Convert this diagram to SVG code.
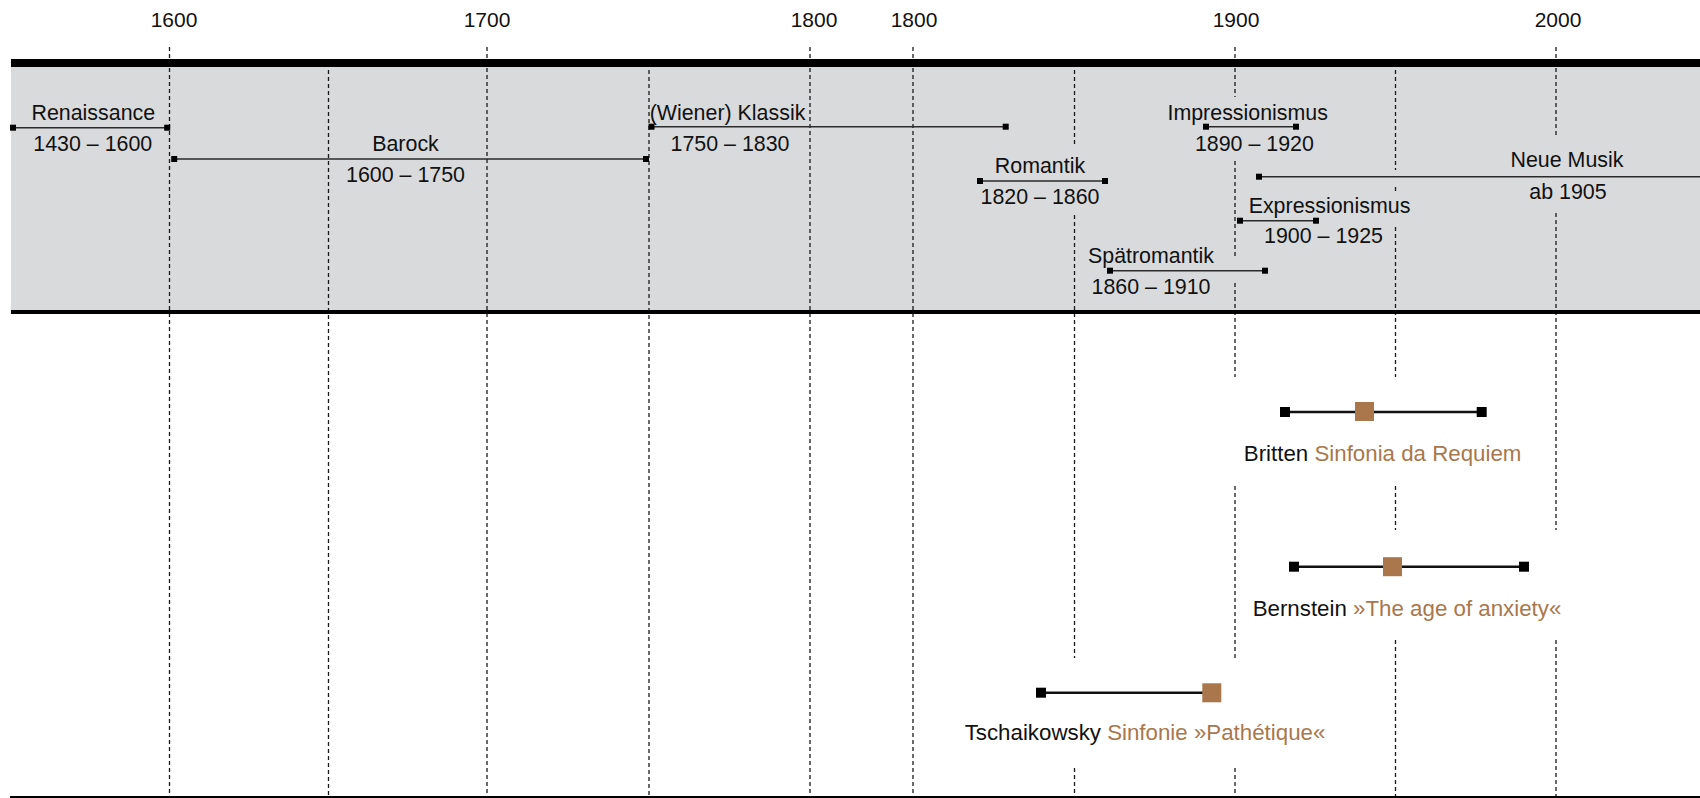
<svg xmlns="http://www.w3.org/2000/svg" width="1700" height="798" viewBox="0 0 1700 798">
<style>
  .bg { fill: #ffffff; }
  .band { fill: #d9dadc; }
  .bar { fill: #000000; }
  .grid { stroke: #1a1a1a; stroke-width: 1.3; stroke-dasharray: 4 3; fill: none; }
  .yr { font-family: "Liberation Sans", Arial, sans-serif; font-size: 21px; fill: #111; text-anchor: middle; }
  .lbl { font-family: "Liberation Sans", Arial, sans-serif; font-size: 21.4px; fill: #111; text-anchor: middle; }
  .work { font-family: "Liberation Sans", Arial, sans-serif; font-size: 22.3px; fill: #111; text-anchor: middle; }
  .brown { fill: #a9774b; }
  .span { stroke: #2a2a2a; stroke-width: 1.5; }
  .wspan { stroke: #111; stroke-width: 2.6; }
  .mk { fill: #000; }
</style>
<rect class="bg" x="0" y="0" width="1700" height="798"/>
<rect class="band" x="11" y="63" width="1689" height="249"/>

<g id="connectors">
  <path class="grid" d="M169.5 47V797 M328.5 63V797 M487 47V797 M649 63V797 M810 47V797 M913 47V797
    M1074.5 63V146.7 M1074.5 215V658 M1074.5 768V797
    M1235 47V97 M1235 161V258 M1235 283V377 M1235 486V660 M1235 768V797
    M1395.5 63V170 M1395.5 187V192 M1395.5 227V377 M1395.5 486V530 M1395.5 640V797
    M1556 47V137 M1556 213V530 M1556 640V797"/>
</g>

<rect class="bar" x="11" y="59" width="1689" height="8"/>
<rect class="bar" x="11" y="310" width="1689" height="4"/>
<rect class="bar" x="10" y="796" width="1690" height="2"/>

<g id="axis">
  <text class="yr" x="174" y="27">1600</text>
  <text class="yr" x="487" y="27">1700</text>
  <text class="yr" x="814" y="27">1800</text>
  <text class="yr" x="914" y="27">1800</text>
  <text class="yr" x="1236" y="27">1900</text>
  <text class="yr" x="1558" y="27">2000</text>
</g>

<g id="renaissance">
  <line class="span" x1="13" y1="127.7" x2="167.2" y2="127.7"/>
  <rect class="mk" x="10" y="124.7" width="6" height="6"/>
  <rect class="mk" x="164.2" y="124.7" width="6" height="6"/>
  <text class="lbl" x="93.3" y="120">Renaissance</text>
  <text class="lbl" x="92.8" y="151">1430 – 1600</text>
</g>

<g id="barock">
  <line class="span" x1="174.2" y1="159" x2="646" y2="159"/>
  <rect class="mk" x="171.2" y="156" width="6" height="6"/>
  <rect class="mk" x="643" y="156" width="6" height="6"/>
  <text class="lbl" x="405.5" y="151">Barock</text>
  <text class="lbl" x="405.5" y="181.7">1600 – 1750</text>
</g>

<g id="klassik">
  <line class="span" x1="651.5" y1="126.7" x2="1005.7" y2="126.7"/>
  <rect class="mk" x="648.5" y="123.7" width="6" height="6"/>
  <rect class="mk" x="1002.7" y="123.7" width="6" height="6"/>
  <text class="lbl" x="727.5" y="120">(Wiener) Klassik</text>
  <text class="lbl" x="730" y="150.7">1750 – 1830</text>
</g>

<g id="romantik">
  <line class="span" x1="980" y1="181" x2="1105" y2="181"/>
  <rect class="mk" x="977" y="178" width="6" height="6"/>
  <rect class="mk" x="1102" y="178" width="6" height="6"/>
  <text class="lbl" x="1040" y="173.3">Romantik</text>
  <text class="lbl" x="1040" y="204">1820 – 1860</text>
</g>

<g id="spaetromantik">
  <line class="span" x1="1110" y1="270.7" x2="1265" y2="270.7"/>
  <rect class="mk" x="1107" y="267.7" width="6" height="6"/>
  <rect class="mk" x="1262" y="267.7" width="6" height="6"/>
  <text class="lbl" x="1151" y="263">Spätromantik</text>
  <text class="lbl" x="1151" y="293.5">1860 – 1910</text>
</g>

<g id="impressionismus">
  <line class="span" x1="1206" y1="126.7" x2="1296" y2="126.7"/>
  <rect class="mk" x="1203" y="123.7" width="6" height="6"/>
  <rect class="mk" x="1293" y="123.7" width="6" height="6"/>
  <text class="lbl" x="1247.7" y="120">Impressionismus</text>
  <text class="lbl" x="1254.4" y="150.7">1890 – 1920</text>
</g>

<g id="expressionismus">
  <line class="span" x1="1240" y1="220.7" x2="1316" y2="220.7"/>
  <rect class="mk" x="1237" y="217.7" width="6" height="6"/>
  <rect class="mk" x="1313" y="217.7" width="6" height="6"/>
  <text class="lbl" x="1329.5" y="212.5">Expressionismus</text>
  <text class="lbl" x="1323.5" y="242.7">1900 – 1925</text>
</g>

<g id="neue-musik">
  <line class="span" x1="1259" y1="176.7" x2="1700" y2="176.7"/>
  <rect class="mk" x="1256" y="173.7" width="6" height="6"/>
  <text class="lbl" x="1567" y="167">Neue Musik</text>
  <text class="lbl" x="1568" y="199">ab 1905</text>
</g>

<g id="britten">
  <line class="wspan" x1="1285" y1="412" x2="1481.7" y2="412"/>
  <rect class="mk" x="1280" y="407" width="10" height="10"/>
  <rect class="mk" x="1476.7" y="407" width="10" height="10"/>
  <rect class="brown" x="1355" y="402" width="19" height="19"/>
  <text class="work" x="1382.6" y="461">Britten <tspan class="brown">Sinfonia da Requiem</tspan></text>
</g>

<g id="bernstein">
  <line class="wspan" x1="1294" y1="566.7" x2="1524" y2="566.7"/>
  <rect class="mk" x="1289" y="561.7" width="10" height="10"/>
  <rect class="mk" x="1519" y="561.7" width="10" height="10"/>
  <rect class="brown" x="1383" y="557.2" width="19" height="19"/>
  <text class="work" x="1407" y="615.7">Bernstein <tspan class="brown">»The age of anxiety«</tspan></text>
</g>

<g id="tschaikowsky">
  <line class="wspan" x1="1041" y1="692.7" x2="1205" y2="692.7"/>
  <rect class="mk" x="1036" y="687.7" width="10" height="10"/>
  <rect class="brown" x="1202.3" y="683.3" width="19" height="19"/>
  <text class="work" x="1145" y="740">Tschaikowsky <tspan class="brown">Sinfonie »Pathétique«</tspan></text>
</g>
</svg>
